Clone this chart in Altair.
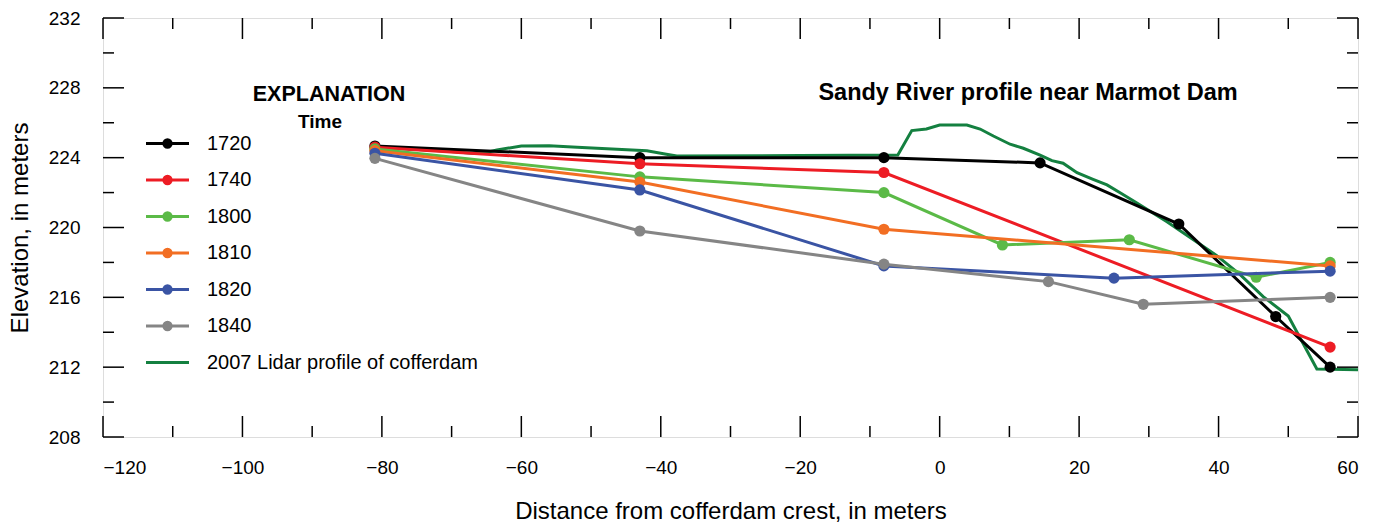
import altair as alt
import pandas as pd

FONT = "Liberation Sans, Arial, sans-serif"

# ---------------- data ----------------
series_names = ["1720", "1740", "1800", "1810", "1820", "1840"]
series_colors = ["#000000", "#ED1C24", "#5BBA47", "#F26E23", "#3A54A4", "#858585"]
lidar_name = "2007 Lidar profile of cofferdam"
lidar_color = "#148040"

x_1720 = [-81, -43, -8, 14.4, 34.3, 48.2, 56.0]
y_1720 = [224.67, 224.0, 224.0, 223.7, 220.2, 214.9, 212.0]
x_1740 = [-81, -43, -8, 56.0]
y_1740 = [224.6, 223.65, 223.15, 213.15]
x_1800 = [-81, -43, -8, 9.0, 27.2, 45.4, 56.0]
y_1800 = [224.5, 222.9, 222.0, 219.0, 219.3, 217.15, 218.0]
x_1810 = [-81, -43, -8, 56.0]
y_1810 = [224.4, 222.6, 219.9, 217.8]
x_1820 = [-81, -43, -8, 25.0, 56.0]
y_1820 = [224.25, 222.15, 217.8, 217.1, 217.5]
x_1840 = [-81, -43, -8, 15.6, 29.2, 56.0]
y_1840 = [223.96, 219.8, 217.9, 216.9, 215.6, 216.0]

lidar_x = [-81, -76, -71, -67, -65.5, -63.5, -60, -56, -52, -47, -42, -39.2, -37.7,
           -20, -6, -4, -1.9, 0, 3.9, 5.8, 7.7, 10.1, 12, 14.4, 16.1, 17.7, 19.7,
           22, 24, 26, 28, 32.6, 36.4, 39.7, 43.1, 46.4, 50, 54.1, 60]
lidar_y = [224.6, 224.5, 224.38, 224.25, 224.25, 224.44, 224.67, 224.68, 224.6, 224.5,
           224.4, 224.2, 224.1, 224.12, 224.15, 225.55, 225.64, 225.87, 225.87, 225.64,
           225.24, 224.77, 224.54, 224.15, 223.83, 223.68, 223.14, 222.76, 222.44,
           221.96, 221.48, 220.33, 219.3, 218.4, 217.3, 216.04, 214.93, 211.9, 211.85]

x_tick_labels = [-120, -100, -80, -60, -40, -20, 0, 20, 40, 60]
y_tick_labels = [208, 212, 216, 220, 224, 228, 232]
x_ticks = list(range(-120, 61, 10))
y_ticks = list(range(208, 233, 2))

chart_title = "Sandy River profile near Marmot Dam"
explanation = "EXPLANATION"
legend_title = "Time"
x_title = "Distance from cofferdam crest, in meters"
y_title = "Elevation, in meters"

# ---------------- tables ----------------
xs_all = [x_1720, x_1740, x_1800, x_1810, x_1820, x_1840]
ys_all = [y_1720, y_1740, y_1800, y_1810, y_1820, y_1840]
rows = []
for name, xs_, ys_ in zip(series_names, xs_all, ys_all):
    for i, (a, b) in enumerate(zip(xs_, ys_)):
        rows.append({"series": name, "x": a, "y": b, "order": i})
prof = pd.DataFrame(rows)
lidar = pd.DataFrame({"series": lidar_name, "x": lidar_x, "y": lidar_y,
                      "order": list(range(len(lidar_x)))})
all_df = pd.concat([lidar, prof], ignore_index=True)

W, H = 1255, 419
MAJ, MIN = 21, 11

xscale = alt.Scale(domain=[-120, 60], nice=False, zero=False)
yscale = alt.Scale(domain=[208, 232], nice=False, zero=False)
domain_all = series_names + [lidar_name]
cscale = alt.Scale(domain=domain_all, range=series_colors + [lidar_color])

# legend glyphs: a line with a (stroke-filled) dot, and a plain line
dot_line = ("M-2,0L2,0"
            "M-0.34,0A0.34,0.34,0,1,1,0.34,0A0.34,0.34,0,1,1,-0.34,0Z"
            "M-0.15,0A0.15,0.15,0,1,1,0.15,0A0.15,0.15,0,1,1,-0.15,0Z")
plain_line = "M-2,0L2,0"
sscale = alt.Scale(domain=domain_all, range=[dot_line] * 6 + [plain_line])

xaxis = alt.Axis(values=x_tick_labels, title=x_title, ticks=False, tickSize=0, domain=False,
                 grid=False, labelFont=FONT, labelFontSize=19, labelColor="black",
                 labelPadding=21, titleFont=FONT, titleFontSize=24, titleFontWeight="normal",
                 titleColor="black", titlePadding=22)
yaxis = alt.Axis(values=y_tick_labels, title=y_title, ticks=False, tickSize=0, domain=False,
                 grid=False, labelFont=FONT, labelFontSize=19, labelColor="black",
                 labelPadding=23, titleFont=FONT, titleFontSize=24, titleFontWeight="normal",
                 titleColor="black", titlePadding=16)

X = alt.X("x:Q", scale=xscale, axis=xaxis)
Y = alt.Y("y:Q", scale=yscale, axis=yaxis)

layers = []
layers.append(
    alt.Chart(lidar).mark_line(strokeWidth=3, color=lidar_color)
    .encode(x=X, y=Y, order="order:Q")
)
for name, col in zip(series_names, series_colors):
    base = alt.Chart(prof).transform_filter(alt.datum.series == name)
    layers.append(base.mark_line(strokeWidth=3, color=col).encode(x=X, y=Y, order="order:Q"))
    layers.append(base.mark_point(filled=True, size=125, opacity=1, color=col).encode(x=X, y=Y))

legend = alt.Legend(
    title=None, orient="none", legendX=52, legendY=113, padding=0,
    labelFont=FONT, labelFontSize=20, labelColor="black", labelOffset=27, labelLimit=500,
    rowPadding=13.5, symbolSize=462, symbolStrokeWidth=3, symbolOpacity=1,
)
layers.append(
    alt.Chart(all_df).mark_point(filled=False, opacity=0, size=1)
    .encode(x=X, y=Y,
            color=alt.Color("series:N", scale=cscale, legend=legend),
            shape=alt.Shape("series:N", scale=sscale, legend=legend))
)

# frame ticks (inward), drawn from the tick arrays through the scales
xt = alt.Chart(pd.DataFrame({"t": x_ticks})).transform_calculate(maj="datum.t % 20 == 0")
yt = alt.Chart(pd.DataFrame({"t": y_ticks})).transform_calculate(maj="datum.t % 4 == 0")
TX = alt.X("t:Q", scale=xscale, axis=xaxis)
TY = alt.Y("t:Q", scale=yscale, axis=yaxis)
tick_style = dict(color="black", strokeWidth=1.5)
for cond, ln in (("datum.maj", MAJ), ("!datum.maj", MIN)):
    layers.append(xt.transform_filter(cond).mark_rule(**tick_style)
                  .encode(x=TX, y=alt.value(H), y2=alt.value(H - ln)))
    layers.append(xt.transform_filter(cond).mark_rule(**tick_style)
                  .encode(x=TX, y=alt.value(0), y2=alt.value(ln)))
    layers.append(yt.transform_filter(cond).mark_rule(**tick_style)
                  .encode(y=TY, x=alt.value(0), x2=alt.value(ln)))
    layers.append(yt.transform_filter(cond).mark_rule(**tick_style)
                  .encode(y=TY, x=alt.value(W), x2=alt.value(W - ln)))

# annotation texts
def label(txt, px, py, size, weight="bold"):
    return (alt.Chart(pd.DataFrame({"t": [txt]}))
            .mark_text(font=FONT, fontSize=size, fontWeight=weight, color="black",
                       align="center", baseline="alphabetic")
            .encode(x=alt.value(px), y=alt.value(py), text="t:N"))

layers.append(label(explanation, 226, 83, 21.5))
layers.append(label(legend_title, 217, 110, 19))
layers.append(label(chart_title, 925, 82, 23.5))

chart = (
    alt.layer(*layers)
    .properties(width=W, height=H,
                autosize=alt.AutoSizeParams(type="none"),
                padding={"left": 103, "top": 18, "right": 27, "bottom": 88})
    .configure_view(stroke="black", strokeWidth=2)
    .configure(background="white")
)

chart.save("out.html", embed_options={"renderer": "svg", "actions": False})
